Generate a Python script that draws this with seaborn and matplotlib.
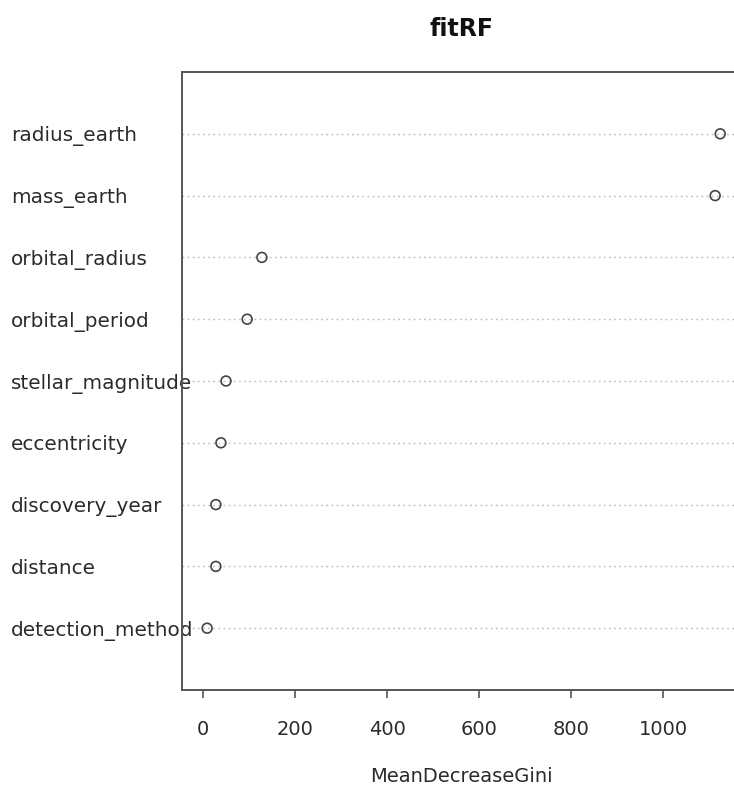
import matplotlib
matplotlib.use("Agg")
import matplotlib.pyplot as plt
import seaborn as sns
import pandas as pd

features = ["radius_earth", "mass_earth", "orbital_radius", "orbital_period",
            "stellar_magnitude", "eccentricity", "discovery_year", "distance",
            "detection_method"]
gini = [1124, 1113, 128, 96, 50, 39, 28, 28, 9]
xticks = [0, 200, 400, 600, 800, 1000]

df = pd.DataFrame({"feature": features, "MeanDecreaseGini": gini})

sns.set_style("white")
plt.rcParams["font.family"] = ["DejaVu Sans"]

fig = plt.figure(figsize=(7.34, 7.85), dpi=100)
ax = fig.add_axes([182/734, 95/785, 558/734, 618/785])

sns.scatterplot(data=df, x="MeanDecreaseGini", y="feature", ax=ax,
                marker="o", s=50, facecolor="none", edgecolor="#444444",
                linewidth=1.2, zorder=3)

ax.set_xlim(-45.6, 1167)
ax.set_ylim(len(features), -1)

ax.grid(axis="y", linestyle=(0, (1.2, 2.5)), color="#bbbbbb", linewidth=1.0)
ax.grid(axis="x", visible=False)

ax.set_xticks(xticks)
ax.set_xticklabels([str(v) for v in xticks], fontsize=14, color="#2a2a2a")
ax.tick_params(axis="x", direction="out", length=6, width=1.2, color="#555555",
               pad=15.5, bottom=True)
ax.tick_params(axis="y", length=0, pad=123, labelsize=14.4, labelcolor="#2a2a2a")
for lab in ax.get_yticklabels():
    lab.set_horizontalalignment("left")

for sp in ax.spines.values():
    sp.set_color("#555555")
    sp.set_linewidth(1.4)

ax.set_ylabel("")
ax.set_xlabel("MeanDecreaseGini", fontsize=14, color="#2a2a2a")
ax.xaxis.set_label_coords(0.5, -0.125)
ax.set_title("fitRF", fontsize=17, fontweight="bold", color="#111111", pad=26)

fig.savefig("out.png", dpi=100)
